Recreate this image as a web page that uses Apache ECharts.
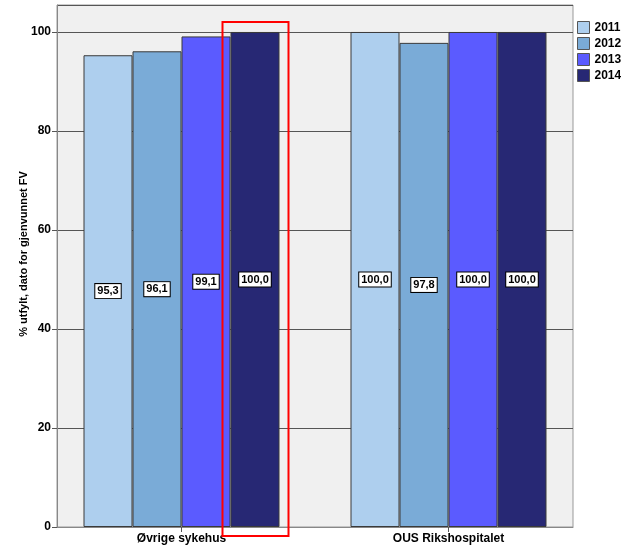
<!DOCTYPE html>
<html>
<head>
<meta charset="utf-8">
<script src="https://cdn.jsdelivr.net/npm/echarts@6/dist/echarts.min.js"></script>
<style>
html,body{margin:0;padding:0;background:#fff;}
#c{width:621px;height:553px;}
</style>
</head>
<body>
<div id="c"></div>
<script>
const categories = ['Øvrige sykehus', 'OUS Rikshospitalet'];
const years = ['2011', '2012', '2013', '2014'];
const v2011 = [95.3, 100.0];
const v2012 = [96.1, 97.8];
const v2013 = [99.1, 100.0];
const v2014 = [100.0, 100.0];
const yTitle = '% utfylt, dato for gjenvunnet FV';

const seriesValues = [v2011, v2012, v2013, v2014];
const colors = ['#aecfee', '#7aabd7', '#5b5bff', '#272874'];
const FONT = '"Liberation Sans", Arial, sans-serif';
const YMAX = 105.45;

const chart = echarts.init(document.getElementById('c'), null, {renderer: 'canvas'});

const series = years.map((y, i) => ({
  name: y,
  type: 'bar',
  xAxisIndex: 1,
  yAxisIndex: 1,
  data: seriesValues[i],
  barWidth: 49,
  barGap: '0%',
  itemStyle: {color: colors[i], borderColor: '#3a3a3a', borderWidth: 1},
  label: {
    show: true,
    position: 'inside',
    formatter: p => p.value.toFixed(1).replace('.', ','),
    color: '#000',
    fontFamily: FONT,
    fontWeight: 'bold',
    fontSize: 11,
    backgroundColor: '#fff',
    borderColor: '#000',
    borderWidth: 1,
    padding: [2, 2, 1, 2]
  }
}));

const option = {
  backgroundColor: '#fff',
  animation: false,
  legend: {
    orient: 'vertical',
    left: 577,
    top: 21,
    padding: 0,
    itemWidth: 12,
    itemHeight: 12,
    itemGap: 3,
    icon: 'rect',
    data: years,
    itemStyle: {borderColor: '#555', borderWidth: 1},
    textStyle: {fontFamily: FONT, fontWeight: 'bold', fontSize: 12, color: '#000'}
  },
  grid: [
    {left: 57, right: 48, top: 5, bottom: 26, show: true, backgroundColor: '#f0f0f0', borderColor: '#999', borderWidth: 1},
    {left: 48, right: 39, top: 5, bottom: 26}
  ],
  xAxis: [
    {type: 'value', gridIndex: 0, min: 0, max: 1,
     axisLine: {show: true, onZero: false, lineStyle: {color: '#888', width: 1}},
     axisTick: {show: false}, axisLabel: {show: false}, splitLine: {show: false}},
    {type: 'category', gridIndex: 1, data: categories,
     axisLine: {show: false},
     axisTick: {show: true, alignWithLabel: true, length: 5, lineStyle: {color: '#555'}},
     axisLabel: {fontFamily: FONT, fontWeight: 'bold', fontSize: 12, color: '#000', margin: 6},
     splitLine: {show: false}}
  ],
  yAxis: [
    {type: 'value', gridIndex: 0, min: 0, max: YMAX, interval: 20,
     name: yTitle, nameLocation: 'middle', nameRotate: 90, nameGap: 28, nameMoveOverlap: false,
     nameTextStyle: {fontFamily: FONT, fontWeight: 'bold', fontSize: 11, color: '#000', padding: [0, 0, 0, 24]},
     axisLine: {show: true, lineStyle: {color: '#888'}},
     axisTick: {show: true, length: 5, lineStyle: {color: '#555'}},
     axisLabel: {fontFamily: FONT, fontWeight: 'bold', fontSize: 12, color: '#000', margin: 6, showMaxLabel: false},
     splitLine: {show: true, lineStyle: {color: '#555', width: 1}}},
    {type: 'value', gridIndex: 1, min: 0, max: YMAX, show: false, splitLine: {show: false}}
  ],
  series: series
};

chart.setOption(option);

// Red highlight rectangle around the 2014 bar of the first category
const c0 = chart.convertToPixel({xAxisIndex: 1, yAxisIndex: 1}, [0, v2014[0]]);
const base = chart.convertToPixel({xAxisIndex: 1, yAxisIndex: 1}, [0, 0]);
const bw = 49;
const barLeft = c0[0] + bw;
const barRight = c0[0] + 2 * bw;
chart.setOption({
  graphic: [{
    type: 'rect',
    z: 100,
    shape: {x: barLeft - 8, y: c0[1] - 10, width: (barRight - barLeft) + 17, height: (base[1] - c0[1]) + 19},
    style: {fill: 'none', stroke: '#ff0000', lineWidth: 2}
  }]
});
</script>
</body>
</html>
